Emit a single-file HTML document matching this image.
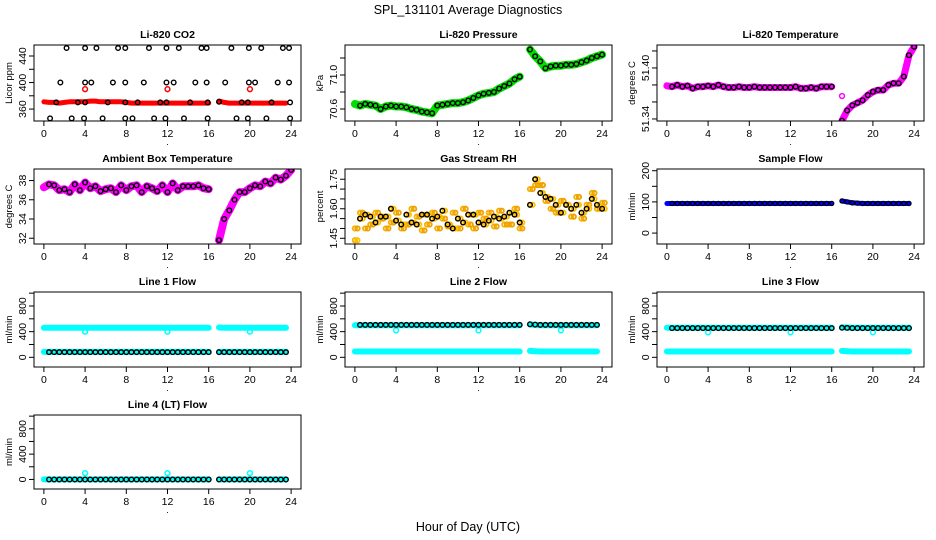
<!DOCTYPE html>
<html><head><meta charset="utf-8">
<style>
html,body{margin:0;padding:0;background:#fff;}
svg{display:block;font-family:"Liberation Sans",sans-serif;}
</style></head>
<body>
<svg id="fig" width="936" height="540" viewBox="0 0 936 540" xmlns="http://www.w3.org/2000/svg">
<text x="468" y="14" text-anchor="middle" font-size="12.5">SPL_131101  Average Diagnostics</text>
<text x="468" y="531" text-anchor="middle" font-size="12.5">Hour of Day (UTC)</text>
</svg>
<script>
const hours = [0,0.5,1,1.5,2,2.5,3,3.5,4,4.5,5,5.5,6,6.5,7,7.5,8,8.5,9,9.5,10,10.5,11,11.5,12,12.5,13,13.5,14,14.5,15,15.5,16,17,17.5,18,18.5,19,19.5,20,20.5,21,21.5,22,22.5,23,23.5,24];
const xTicks = [0,4,8,12,16,20,24];
const dipHours = [4,12,20];

const co2Red = [371,370,370,369,370,371,371,371,371,372,372,371,371,371,371,371,370,369,369,369,369,369,369,369,369,369,369,369,369,369,369,369,369,372,370,369,369,369,369,369,369,369,369,369,369,369,369];
const co2RedDip = [390,390,390];
const co2BlackHours = [2.2,4.0,5.1,7.2,7.9,10.2,11.9,13.1,15.3,15.8,18.2,19.9,21.1,23.2,23.8,1.6,4.0,4.6,6.7,7.9,9.7,11.9,12.6,14.7,15.8,17.6,19.9,20.5,22.7,23.8,0.6,2.7,3.9,5.7,7.9,8.6,10.7,11.8,13.6,15.9,18.7,19.8,21.6,23.9,1.2,3.3,4.0,6.2,7.9,9.1,11.3,11.9,14.2,15.9,17.0,19.2,19.8,22.1,23.9];
const co2BlackVals = [452,452,452,452,452,452,452,452,452,452,452,452,452,452,452,400,400,400,400,400,400,400,400,400,400,400,400,400,400,400,346,346,346,346,346,346,346,346,346,346,346,346,346,346,370,370,370,370,370,370,370,370,370,370,371,370,370,370,370];

const pressure = [70.66,70.64,70.66,70.65,70.64,70.60,70.63,70.64,70.63,70.63,70.62,70.60,70.59,70.57,70.56,70.55,70.64,70.65,70.66,70.67,70.67,70.68,70.70,70.73,70.76,70.78,70.79,70.80,70.84,70.87,70.90,70.95,70.98,71.30,71.22,71.16,71.08,71.10,71.11,71.11,71.12,71.12,71.13,71.15,71.17,71.20,71.22,71.24];
const licorTemp = [51.379,51.378,51.380,51.378,51.379,51.376,51.378,51.378,51.379,51.378,51.380,51.378,51.377,51.377,51.378,51.377,51.377,51.378,51.377,51.377,51.377,51.377,51.377,51.377,51.377,51.378,51.376,51.376,51.377,51.376,51.378,51.378,51.378,51.338,51.350,51.356,51.359,51.362,51.368,51.372,51.374,51.374,51.380,51.382,51.382,51.390,51.415,51.425];
const licorTempOutlier = [51.367];
const ambientTemp = [37.3,37.6,37.5,37.0,37.1,36.8,37.6,37.0,37.8,37.2,37.4,36.9,37.1,37.2,36.8,37.5,37.0,37.4,37.5,36.8,37.4,37.2,36.9,37.5,36.8,37.7,37.0,37.4,37.4,37.4,37.5,37.2,37.1,31.8,34.0,34.9,36.0,36.8,36.8,37.2,37.5,37.4,37.9,37.7,38.3,38.1,38.5,39.1];
const rhA = [1.44,1.55,1.57,1.56,1.53,1.56,1.56,1.60,1.54,1.52,1.57,1.53,1.52,1.57,1.57,1.55,1.56,1.59,1.52,1.50,1.55,1.53,1.57,1.57,1.53,1.52,1.54,1.56,1.55,1.56,1.58,1.57,1.53,1.62,1.75,1.68,1.66,1.65,1.62,1.58,1.62,1.60,1.62,1.58,1.60,1.65,1.62,1.60];
const rhB = [1.50,1.58,1.50,1.52,1.58,1.55,1.50,1.53,1.58,1.50,1.52,1.60,1.56,1.49,1.52,1.58,1.50,1.55,1.51,1.58,1.50,1.60,1.52,1.50,1.58,1.55,1.58,1.51,1.59,1.52,1.52,1.60,1.50,1.70,1.72,1.72,1.64,1.60,1.58,1.64,1.62,1.56,1.66,1.55,1.62,1.68,1.60,1.63];
const sampleFlow = [95,95,95,95,95,95,95,95,95,95,95,95,95,95,95,95,95,95,95,95,95,95,95,95,95,95,95,95,95,95,95,95,95,103,100,97,96,95,95,95,95,95,95,95,95,95,95];

const l1Hi = [460,460,460,460,460,460,460,460,460,460,460,460,460,460,460,460,460,460,460,460,460,460,460,460,460,460,460,460,460,460,460,460,460,465,462,460,460,460,460,460,460,460,460,460,460,460,460];
const l1Lo = [85,85,85,85,85,85,85,85,85,85,85,85,85,85,85,85,85,85,85,85,85,85,85,85,85,85,85,85,85,85,85,85,85,85,85,85,85,85,85,85,85,85,85,85,85,85,85];
const l1Black = [80,80,80,80,80,80,80,80,80,80,80,80,80,80,80,80,80,80,80,80,80,80,80,80,80,80,80,80,80,80,80,80,80,80,80,80,80,80,80,80,80,80,80,80,80,80,80];
const l1Dip = [400,400,400];
const l2Hi = [500,500,500,500,500,500,500,500,500,500,500,500,500,500,500,500,500,500,500,500,500,500,500,500,500,500,500,500,500,500,500,500,500,510,505,500,500,500,500,500,500,500,500,500,500,500,500];
const l2Lo = [90,90,90,90,90,90,90,90,90,90,90,90,90,90,90,90,90,90,90,90,90,90,90,90,90,90,90,90,90,90,90,90,90,100,95,90,90,90,90,90,90,90,90,90,90,90,90];
const l2Black = [505,505,505,505,505,505,505,505,505,505,505,505,505,505,505,505,505,505,505,505,505,505,505,505,505,505,505,505,505,505,505,505,505,515,510,505,505,505,505,505,505,505,505,505,505,505,505];
const l2Dip = [420,420,420];
const l3Hi = [460,460,460,460,460,460,460,460,460,460,460,460,460,460,460,460,460,460,460,460,460,460,460,460,460,460,460,460,460,460,460,460,460,470,465,460,460,460,460,460,460,460,460,460,460,460,460];
const l3Lo = [90,90,90,90,90,90,90,90,90,90,90,90,90,90,90,90,90,90,90,90,90,90,90,90,90,90,90,90,90,90,90,90,90,100,95,90,90,90,90,90,90,90,90,90,90,90,90];
const l3Black = [455,455,455,455,455,455,455,455,455,455,455,455,455,455,455,455,455,455,455,455,455,455,455,455,455,455,455,455,455,455,455,455,455,460,458,455,455,455,455,455,455,455,455,455,455,455,455];
const l3Dip = [390,390,390];
const l4Hi = [0,0,0,0,0,0,0,0,0,0,0,0,0,0,0,0,0,0,0,0,0,0,0,0,0,0,0,0,0,0,0,0,0,0,0,0,0,0,0,0,0,0,0,0,0,0,0];
const l4Black = [0,0,0,0,0,0,0,0,0,0,0,0,0,0,0,0,0,0,0,0,0,0,0,0,0,0,0,0,0,0,0,0,0,0,0,0,0,0,0,0,0,0,0,0,0,0,0];
const l4Dip = [100,100,100];

const co2Ticks = [360,380,400,420,440]; const co2Labels = [360,400,440];
const presTicks = [70.6,70.8,71.0,71.2]; const presLabels = [70.6,71.0];
const ltTicks = [51.34,51.36,51.38,51.40,51.42]; const ltLabels = [51.34,51.40];
const ambTicks = [32,34,36,38]; const ambLabels = [32,34,36,38];
const rhTicks = [1.45,1.50,1.55,1.60,1.65,1.70,1.75]; const rhLabels = [1.45,1.60,1.75];
const sfTicks = [0,50,100,150,200]; const sfLabels = [0,100,200];
const flTicks = [0,200,400,600,800,1000]; const flLabels = [0,400,800];

const NS = "http://www.w3.org/2000/svg";
const fig = document.getElementById('fig');
function mk(tag, attrs, parent){ const e=document.createElementNS(NS,tag); for(const k in attrs) e.setAttribute(k,attrs[k]); (parent||fig).appendChild(e); return e; }

const cols=[[34,301],[345,612],[657,924]];
const rows=[[45,121],[169,244],[292,367],[415,489]];

function makePanel(name, c, r, title, ylab, ymin, ymax, ticks, labels, fmt){
  const [x0,x1]=cols[c], [y0,y1]=rows[r];
  const g=mk('g',{});
  
  
  const sx=h=>x0+(h+0.96)/25.92*(x1-x0);
  const sy=v=>y1-(v-ymin)/(ymax-ymin)*(y1-y0);
  const clipId='clip-'+name;
  const cp=mk('clipPath',{id:clipId},g); mk('rect',{x:x0,y:y0,width:x1-x0,height:y1-y0},cp);
  const plot=mk('g',{'clip-path':'url(#'+clipId+')'},g);
  const t=mk('text',{x:(x0+x1)/2,y:y0-7,'text-anchor':'middle','font-size':'10.5','font-weight':'bold'},g);
  t.textContent=title;
  
  
  const yl=mk('text',{x:0,y:0,'text-anchor':'middle','font-size':'9.5',transform:`translate(${x0-22},${(y0+y1)/2}) rotate(-90)`},g);
  yl.textContent=ylab;
  
  
  const box=mk('rect',{x:x0,y:y0,width:x1-x0,height:y1-y0,fill:'none',stroke:'#000','stroke-width':1},g);
  
  
  xTicks.forEach(h=>{
    const X=sx(h);
    mk('line',{x1:X,x2:X,y1:y1,y2:y1+5,stroke:'#000'},g);
    const tl=mk('text',{x:X,y:y1+16,'text-anchor':'middle','font-size':'10.5'},g);
    tl.textContent=h;
    
    
  });
  const dot=mk('text',{x:(x0+x1)/2,y:y1+24,'text-anchor':'middle','font-size':'9'},g); dot.textContent='.';
  ticks.forEach(v=>{ const Y=sy(v); mk('line',{x1:x0-5,x2:x0,y1:Y,y2:Y,stroke:'#000'},g); });
  labels.forEach(v=>{
    const Y=sy(v);
    const tl=mk('text',{x:0,y:0,'text-anchor':'middle','font-size':'10.5',transform:`translate(${x0-8},${Y}) rotate(-90)`},g);
    tl.textContent=fmt?fmt(v):v;
    
    
  });
  return {g:plot,sx,sy,name};
}
function band(p, hs, vs, color, w){
  let segs=[[]];
  hs.forEach((h,i)=>{ if(i>0 && h-hs[i-1]>0.75) segs.push([]); segs[segs.length-1].push(p.sx(h).toFixed(1)+','+p.sy(vs[i]).toFixed(1)); });
  segs.forEach(s=>{
    const pl=mk('polyline',{points:s.join(' '),fill:'none',stroke:color,'stroke-width':w,'stroke-linejoin':'round','stroke-linecap':'round'},p.g);
    
    
  });
}
function pts(p, hs, vs, color, rad, sw, skipFirst){
  hs.forEach((h,i)=>{
    if(skipFirst && i===0) return;
    const c=mk('circle',{cx:p.sx(h),cy:p.sy(vs[i]),r:rad,fill:'none',stroke:color,'stroke-width':sw},p.g);
    
    
  });
}

let p;
p=makePanel('co2',0,0,'Li-820 CO2','Licor ppm',342,456.6,co2Ticks,co2Labels);
band(p,hours,co2Red,'#ff0000',5); pts(p,dipHours,co2RedDip,'#ff0000',2.4,1.5);
pts(p,co2BlackHours,co2BlackVals,'#000',2.3,1.4);

p=makePanel('pressure',1,0,'Li-820 Pressure','kPa',70.459,71.353,presTicks,presLabels,v=>v.toFixed(1));
band(p,hours,pressure,'#00e000',8); pts(p,hours,pressure,'#000',2.3,1.4,true);

p=makePanel('licor-temp',2,0,'Li-820 Temperature','degrees C',51.3376,51.427,ltTicks,ltLabels,v=>v.toFixed(2));
band(p,hours,licorTemp,'#ff00ff',7); pts(p,[17],licorTempOutlier,'#ff00ff',2.4,1.5);
pts(p,hours,licorTemp,'#000',2.3,1.4,true);

p=makePanel('ambient-temp',0,1,'Ambient Box Temperature','degrees C',31.4,39.2,ambTicks,ambLabels);
band(p,hours,ambientTemp,'#ff00ff',8); pts(p,hours,ambientTemp,'#000',2.3,1.4,true);

p=makePanel('gas-rh',1,1,'Gas Stream RH','percent',1.421,1.802,rhTicks,rhLabels,v=>v.toFixed(2));
pts(p,hours,rhA,'#f5b000',2.2,1.8); pts(p,hours,rhB,'#f5b000',2.2,1.8);
pts(p,hours.map(h=>h+0.25),rhB,'#f0a000',2.2,1.8);
pts(p,hours.map(h=>h+0.25),rhA,'#ffc000',2.2,1.8);
pts(p,hours,rhA,'#000',2.3,1.4,true);

p=makePanel('sample-flow',2,1,'Sample Flow','ml/min',-35,205.5,sfTicks,sfLabels);
band(p,hours,sampleFlow,'#0000ff',5); pts(p,hours,sampleFlow,'#000',2.1,1.2,true);

p=makePanel('line1-flow',0,2,'Line 1 Flow','ml/min',-151,1018,flTicks,flLabels);
band(p,hours,l1Hi,'#00ffff',6); band(p,hours,l1Lo,'#00ffff',6); pts(p,dipHours,l1Dip,'#00ffff',2.4,1.5);
pts(p,hours,l1Black,'#000',2.3,1.4,true);

p=makePanel('line2-flow',1,2,'Line 2 Flow','ml/min',-151,1018,flTicks,flLabels);
band(p,hours,l2Hi,'#00ffff',6); band(p,hours,l2Lo,'#00ffff',6); pts(p,dipHours,l2Dip,'#00ffff',2.4,1.5);
pts(p,hours,l2Black,'#000',2.3,1.4,true);

p=makePanel('line3-flow',2,2,'Line 3 Flow','ml/min',-151,1018,flTicks,flLabels);
band(p,hours,l3Hi,'#00ffff',6); band(p,hours,l3Lo,'#00ffff',6); pts(p,dipHours,l3Dip,'#00ffff',2.4,1.5);
pts(p,hours,l3Black,'#000',2.3,1.4,true);

p=makePanel('line4-flow',0,3,'Line 4 (LT) Flow','ml/min',-151,1018,flTicks,flLabels);
band(p,hours,l4Hi,'#00ffff',6); pts(p,dipHours,l4Dip,'#00ffff',2.4,1.5);
pts(p,hours,l4Black,'#000',2.3,1.4,true);
</script>
</body></html>
